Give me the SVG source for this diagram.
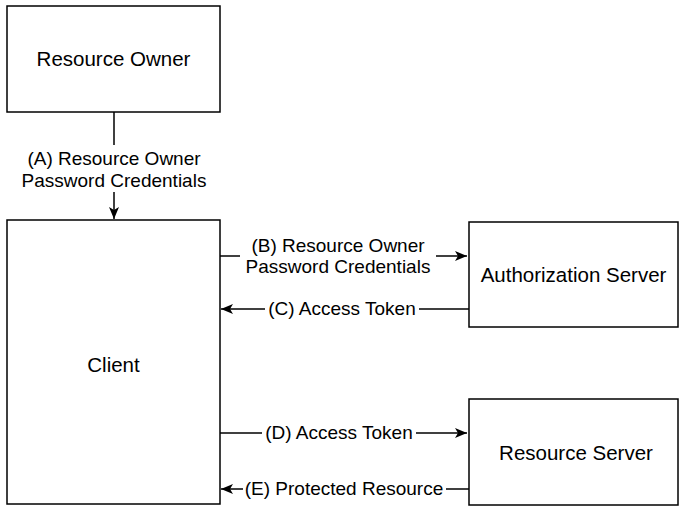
<svg xmlns="http://www.w3.org/2000/svg" width="679" height="506" viewBox="0 0 679 506">
<style>
.node{fill:#fff;stroke:#000;stroke-width:1.5}
.nt{font-family:"Liberation Sans",Arial,sans-serif;font-size:20.5px;fill:#000;text-anchor:middle}
.lt{font-family:"Liberation Sans",Arial,sans-serif;font-size:19px;fill:#000;text-anchor:middle}
.edge{fill:none;stroke:#000;stroke-width:1.5}
.bg{fill:#fff}
</style>
<defs>
<marker id="arr" markerUnits="userSpaceOnUse" markerWidth="14" markerHeight="12" refX="12" refY="5" orient="auto">
<path d="M0,0 L12,5 L0,10 L3,5 z" fill="#000"/>
</marker>
</defs>
<rect width="679" height="506" fill="#fff"/>
<g id="connectors">
<g id="edgeA">
<line class="edge" x1="114" y1="112" x2="114" y2="219" marker-end="url(#arr)"/>
<rect class="bg" x="16" y="145" width="196" height="47"/>
<text class="lt" x="114" y="165">(A) Resource Owner</text>
<text class="lt" x="114" y="187">Password Credentials</text>
</g>
<g id="edgeB">
<line class="edge" x1="220" y1="256" x2="467" y2="256" marker-end="url(#arr)"/>
<rect class="bg" x="240" y="234" width="196" height="46"/>
<text class="lt" x="338" y="252">(B) Resource Owner</text>
<text class="lt" x="338" y="273">Password Credentials</text>
</g>
<g id="edgeC">
<line class="edge" x1="469" y1="309" x2="221" y2="309" marker-end="url(#arr)"/>
<rect class="bg" x="265" y="297" width="154" height="24"/>
<text class="lt" x="342" y="315">(C) Access Token</text>
</g>
<g id="edgeD">
<line class="edge" x1="220" y1="433" x2="467" y2="433" marker-end="url(#arr)"/>
<rect class="bg" x="262" y="421" width="154" height="24"/>
<text class="lt" x="339" y="439">(D) Access Token</text>
</g>
<g id="edgeE">
<line class="edge" x1="469" y1="489" x2="221" y2="489" marker-end="url(#arr)"/>
<rect class="bg" x="243" y="477" width="203" height="24"/>
<text class="lt" x="344" y="495">(E) Protected Resource</text>
</g>
</g>
<g id="resource-owner">
<rect class="node" x="7" y="6" width="213" height="106"/>
<text class="nt" x="113.5" y="66">Resource Owner</text>
</g>
<g id="client">
<rect class="node" x="7" y="220" width="213" height="284"/>
<text class="nt" x="113.5" y="372">Client</text>
</g>
<g id="authorization-server">
<rect class="node" x="469" y="222" width="209" height="105"/>
<text class="nt" x="573.5" y="282">Authorization Server</text>
</g>
<g id="resource-server">
<rect class="node" x="469" y="399" width="209" height="106"/>
<text class="nt" x="576" y="460">Resource Server</text>
</g>
</svg>
